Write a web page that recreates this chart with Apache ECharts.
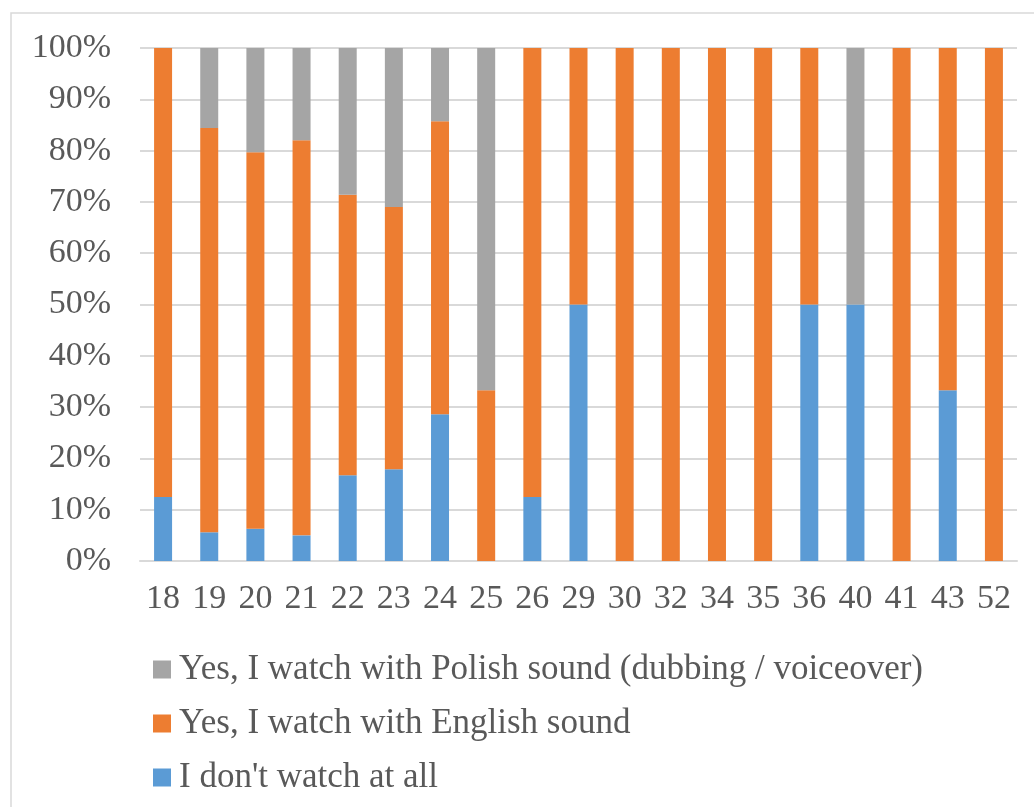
<!DOCTYPE html>
<html>
<head>
<meta charset="utf-8">
<script src="https://cdn.jsdelivr.net/npm/echarts@6/dist/echarts.min.js"></script>
<style>
    html, body { margin: 0; padding: 0; background: #fff; }
    #chart { width: 1034px; height: 807px; }
</style>
</head>
<body>
<div id="chart"></div>
<script>
// Ages on the x axis
const ages = ['18', '19', '20', '21', '22', '23', '24', '25', '26', '29', '30', '32', '34', '35', '36', '40', '41', '43', '52'];

// Shares in percent
const dontWatch = [12.5, 5.6, 6.3, 5, 16.7, 17.9, 28.6, 0, 12.5, 50, 0, 0, 0, 0, 50, 50, 0, 33.3, 0];
const englishSound = [87.5, 78.8, 73.4, 77, 54.7, 51.1, 57.1, 33.3, 87.5, 50, 100, 100, 100, 100, 50, 0, 100, 66.7, 100];
const polishSound = [0, 15.6, 20.3, 18, 28.6, 31, 14.3, 66.7, 0, 0, 0, 0, 0, 0, 0, 50, 0, 0, 0];

const seriesNames = [
    "I don't watch at all",
    'Yes, I watch with English sound',
    'Yes, I watch with Polish sound (dubbing / voiceover)'
];
const legendOrder = [seriesNames[2], seriesNames[1], seriesNames[0]];
const colors = ['#5B9BD5', '#ED7D31', '#A5A5A5'];

const font = 'Liberation Serif, Times New Roman, serif';
const textColor = '#595959';

const chart = echarts.init(document.getElementById('chart'));

function barSeries(name, data, color) {
    return {
        name: name,
        type: 'bar',
        stack: 'total',
        barWidth: 18,
        itemStyle: { color: color },
        data: data
    };
}

chart.setOption({
    animation: false,
    graphic: [{
        type: 'rect',
        shape: { x: 11, y: 13, width: 1200, height: 900 },
        style: { fill: 'none', stroke: '#d9d9d9', lineWidth: 1.5 },
        silent: true
    }],
    grid: { left: 140, right: 17, top: 48, bottom: 246, containLabel: false },
    legend: {
        orient: 'vertical',
        left: 148,
        top: 647,
        itemWidth: 18,
        itemHeight: 18,
        itemGap: 19,
        icon: 'rect',
        data: legendOrder,
        textStyle: { fontFamily: font, fontSize: 35, color: textColor, padding: [0, 0, 0, 3] }
    },
    xAxis: {
        type: 'category',
        data: ages,
        axisLine: { lineStyle: { color: '#d9d9d9', width: 2 } },
        axisTick: { show: false },
        axisLabel: { fontFamily: font, fontSize: 34, color: textColor, margin: 21, interval: 0 }
    },
    yAxis: {
        type: 'value',
        min: 0,
        max: 100,
        interval: 10,
        axisLine: { show: false },
        axisTick: { show: false },
        splitLine: { lineStyle: { color: '#d9d9d9', width: 2 } },
        axisLabel: {
            fontFamily: font, fontSize: 34, color: textColor, margin: 29,
            formatter: v => v + '%'
        }
    },
    series: [
        barSeries(seriesNames[0], dontWatch, colors[0]),
        barSeries(seriesNames[1], englishSound, colors[1]),
        barSeries(seriesNames[2], polishSound, colors[2])
    ]
});
</script>
</body>
</html>
